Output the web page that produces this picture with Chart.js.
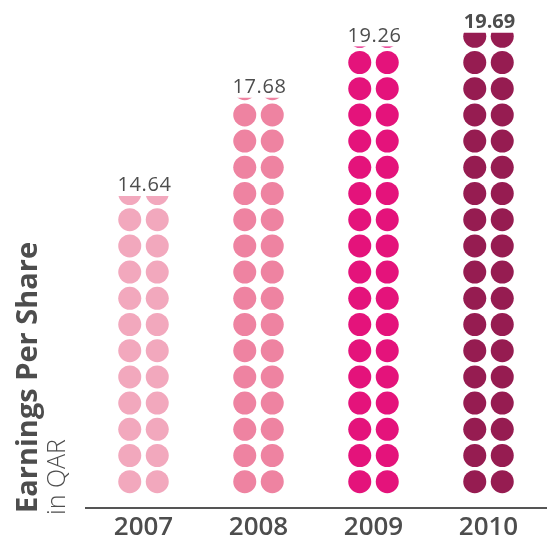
<!DOCTYPE html>
<html><head><meta charset="utf-8">
<script src="https://cdn.jsdelivr.net/npm/chart.js@4.4.1/dist/chart.umd.min.js"></script>
<style>html,body{margin:0;padding:0;background:#fff}#wrap{width:550px;height:548px;position:relative}</style>
</head><body><div id="wrap"><canvas id="c" width="550" height="548"></canvas></div>
<script>
const categories = ['2007', '2008', '2009', '2010'];
const epsValues = [14.64, 17.68, 19.26, 19.69];
const valueLabels = ['14.64', '17.68', '19.26', '19.69'];
const titleMain = 'Earnings Per Share';
const titleSub = 'in QAR';

const barColors = ['#F2A8BD', '#EE83A1', '#E4137B', '#961C51'];
const textColor = '#4d4d4d';
const BAR_W = 51, R = 11.5, PITCH_Y = 26.2, FIRST_Y = 26.3, COL_X = [11.75, 39.25];
const TILE_H = 540;
const tileCache = {};
function tile(color) {
  if (tileCache[color]) return tileCache[color];
  const cv = document.createElement('canvas');
  cv.width = BAR_W; cv.height = TILE_H;
  const g = cv.getContext('2d');
  g.fillStyle = color;
  for (let cy = TILE_H - FIRST_Y; cy > -R; cy -= PITCH_Y) {
    for (const cx of COL_X) {
      g.beginPath(); g.arc(cx, cy, R, 0, Math.PI * 2); g.fill();
    }
  }
  tileCache[color] = cv;
  return cv;
}
function patternFor(context) {
  const chart = context.chart;
  const xs = chart.scales.x, ys = chart.scales.y;
  const color = barColors[context.dataIndex];
  if (!xs || !ys || !chart.chartArea) return color;
  const cx = xs.getPixelForValue(context.dataIndex);
  const base = ys.getPixelForValue(ys.min);
  const p = chart.ctx.createPattern(tile(color), 'no-repeat');
  p.setTransform(new DOMMatrix([1, 0, 0, 1, cx - BAR_W / 2, base - TILE_H]));
  return p;
}

const labelPlugin = {
  id: 'labels',
  afterDatasetsDraw(chart) {
    const ctx = chart.ctx;
    const meta = chart.getDatasetMeta(0);
    const last = meta.data.length - 1;
    ctx.save();
    ctx.fillStyle = textColor;
    ctx.textAlign = 'center';
    ctx.textBaseline = 'alphabetic';
    meta.data.forEach((el, i) => {
      ctx.font = (i === last ? 'bold ' : '400 ') + '20px "Open Sans"';
      ctx.letterSpacing = i === last ? '0px' : '0.6px';
      ctx.fillText(valueLabels[i], el.x + 1, el.y - 5);
    });
    ctx.restore();
  },
  afterDraw(chart) {
    const ctx = chart.ctx;
    const b = chart.chartArea.bottom;
    ctx.save();
    ctx.fillStyle = textColor;
    ctx.textAlign = 'left';
    ctx.textBaseline = 'alphabetic';
    ctx.translate(37, b + 5);
    ctx.rotate(-Math.PI / 2);
    ctx.font = 'bold 29px "Open Sans"';
    ctx.fillText(titleMain, 0, 0);
    ctx.restore();
    ctx.save();
    ctx.fillStyle = textColor;
    ctx.translate(65, b + 7);
    ctx.rotate(-Math.PI / 2);
    ctx.font = '300 25px "Open Sans"';
    ctx.fillText(titleSub, 0, 0);
    ctx.restore();
  }
};

new Chart(document.getElementById('c'), {
  type: 'bar',
  data: {
    labels: categories,
    datasets: [{
      data: epsValues,
      backgroundColor: patternFor,
      borderWidth: 0,
      barThickness: BAR_W
    }]
  },
  options: {
    responsive: false,
    animation: false,
    devicePixelRatio: 1,
    layout: { padding: { left: 86, right: 4, top: 23, bottom: 0 } },
    plugins: { legend: { display: false }, tooltip: { enabled: false } },
    scales: {
      x: {
        grid: { display: false, drawTicks: false },
        border: { display: true, color: '#555555', width: 2 },
        ticks: { color: textColor, font: { family: 'Open Sans', size: 26, weight: '600' }, padding: 4 },
        afterFit(s) { s.height = 40; }
      },
      y: { display: false, min: 5, max: 20 }
    }
  },
  plugins: [labelPlugin]
});
</script></body></html>
